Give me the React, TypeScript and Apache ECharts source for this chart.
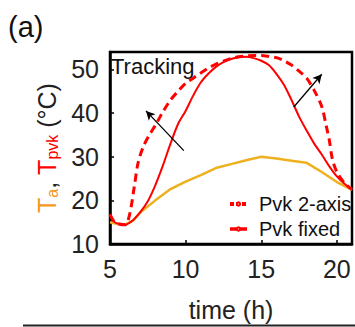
import React, { useEffect, useRef } from "react";
import * as echarts from "echarts";

const taData: [number, number][] = [
  [5, 15], [5.5, 14.6], [6, 14.5], [6.5, 15.3], [7, 17.2], [8, 20], [9, 22.6], [10, 24.3],
  [11, 25.8], [12, 27.4], [13, 28.3], [14, 29.2], [15, 30], [16, 29.6], [17, 29.1], [18, 28.6],
  [19, 26.5], [20, 24.2], [21, 22.4],
];

const fixedData: [number, number][] = [
  [5, 16.8], [5.3, 15], [5.6, 14.6], [6, 14.4], [6.5, 15.4], [7, 17.3], [7.5, 19.8], [8, 23.5],
  [8.5, 28], [9, 33], [9.5, 37.5], [10, 40.5], [10.5, 44], [11, 47], [11.5, 49], [12, 50.6],
  [12.5, 51.7], [13, 52.4], [13.5, 52.8], [14, 52.9], [14.5, 52.6], [15, 52], [15.5, 51],
  [16, 49], [16.5, 46.5], [17, 43], [17.5, 39.2], [18, 36], [18.5, 33], [19, 30.5],
  [19.5, 27.8], [20, 25.5], [20.5, 23.8], [21, 22.5],
];

const trackData: [number, number][] = [
  [5, 16.8], [5.3, 15], [5.6, 14.6], [6, 14.4], [6.3, 16.8], [6.6, 23], [6.85, 28.5], [7.2, 32.3],
  [7.6, 35], [8, 37.2], [8.5, 40.3], [9, 43], [9.5, 45], [10, 46.8], [10.5, 48], [11, 49.2],
  [11.5, 50.3], [12, 51.2], [12.5, 51.9], [13, 52.5], [13.5, 52.9], [14, 53.1], [14.5, 53.2],
  [15, 53.2], [15.5, 53], [16, 52.7], [16.5, 52], [17, 51], [17.5, 49.6], [18, 48], [18.5, 45.2],
  [19, 41.5], [19.3, 37], [19.5, 33.8], [19.7, 29.5], [20, 26.5], [20.5, 24], [21, 22.5],
];

const arrows: [[number, number], [number, number]][] = [
  [[9.88, 31.4], [7.38, 40.5]],
  [[17.15, 41.4], [19.0, 48.9]],
];

const xTicks = [5, 10, 15, 20];
const yTicks = [10, 20, 30, 40, 50];
const seriesNames = ["Pvk 2-axis", "Pvk fixed", "Ta"];

const FONT = "Liberation Sans, Arial, sans-serif";

export default function App() {
  const ref = useRef<HTMLDivElement>(null);
  useEffect(() => {
    document.body.style.margin = "0";
    const chart = echarts.init(ref.current!, undefined, { renderer: "svg" });
    chart.setOption({
      animation: false,
      textStyle: { fontFamily: FONT },
      grid: {
        left: 110, right: 2, top: 52, bottom: 82, show: true,
        borderColor: "#000", borderWidth: 2.5, backgroundColor: "transparent",
      },
      legend: {
        orient: "vertical", left: 223, top: 189, itemWidth: 17, itemHeight: 4, itemGap: 5,
        textStyle: { fontSize: 20, lineHeight: 20, color: "#111", padding: [0, 0, 0, 7], fontFamily: FONT },
        data: [
          { name: seriesNames[0], lineStyle: { type: [4, 2], width: 4 } },
          { name: seriesNames[1], lineStyle: { width: 3.5 } },
        ],
      },
      xAxis: {
        type: "value", min: 5, max: 21, interval: 5,
        name: "time (h)", nameLocation: "middle", nameGap: 53,
        nameTextStyle: { fontSize: 25, color: "#222", fontFamily: FONT },
        axisLine: { lineStyle: { color: "#000", width: 2.5 } },
        axisTick: { inside: true, length: 4, lineStyle: { color: "#000", width: 1.5 } },
        axisLabel: {
          fontSize: 25, color: "#222", margin: 12, fontFamily: FONT,
          formatter: (v: number) => (xTicks.includes(v) ? String(v) : ""),
        },
        splitLine: { show: false },
      },
      yAxis: {
        type: "value", min: 10, max: 54, interval: 10,
        name: "{ta|T}{tas|a}{k|, }{tp|T}{tps|pvk}{k| (°C)}",
        nameLocation: "middle", nameGap: 49,
        nameTextStyle: {
          fontFamily: FONT,
          rich: {
            ta: { fontSize: 25, color: "#F39A1E", lineHeight: 26, verticalAlign: "top", fontFamily: FONT },
            tas: { fontSize: 16, color: "#F39A1E", lineHeight: 12, verticalAlign: "bottom", fontFamily: FONT },
            tp: { fontSize: 25, color: "#FF0000", lineHeight: 26, verticalAlign: "top", fontFamily: FONT },
            tps: { fontSize: 16, color: "#FF0000", lineHeight: 12, verticalAlign: "bottom", fontFamily: FONT },
            k: { fontSize: 25, color: "#222", lineHeight: 26, verticalAlign: "top", fontFamily: FONT },
          },
        },
        axisLine: { lineStyle: { color: "#000", width: 2.5 } },
        axisTick: { inside: true, length: 4, lineStyle: { color: "#000", width: 1.5 } },
        axisLabel: {
          fontSize: 25, color: "#222", margin: 11, fontFamily: FONT,
          formatter: (v: number) => (yTicks.includes(v) ? String(v) : ""),
        },
        splitLine: { show: false },
      },
      graphic: [
        { type: "text", left: 8, top: 12, style: { text: "(a)", font: `29px ${FONT}`, fill: "#111" } },
        { type: "text", left: 111, top: 55, style: { text: "Tracking", font: `22px ${FONT}`, fill: "#111" } },
        { type: "line", shape: { x1: 23, y1: 325.5, x2: 355, y2: 325.5 }, style: { stroke: "#222", lineWidth: 2 } },
      ],
      series: [
        {
          name: seriesNames[0], type: "line", data: trackData, showSymbol: false, smooth: 0.3,
          lineStyle: { color: "#FF0000", width: 3, type: [8, 5] }, itemStyle: { color: "#FF0000" }, z: 3,
        },
        {
          name: seriesNames[1], type: "line", data: fixedData, showSymbol: false, smooth: 0.3,
          lineStyle: { color: "#FF0000", width: 2 }, itemStyle: { color: "#FF0000" }, z: 4,
          markLine: {
            silent: true, symbol: ["none", "arrow"], symbolSize: [7, 9], label: { show: false },
            lineStyle: { color: "#000", width: 1.3, type: "solid" },
            data: arrows.map(([a, b]) => [{ coord: a }, { coord: b }]),
          },
        },
        {
          name: seriesNames[2], type: "line", data: taData, showSymbol: false,
          lineStyle: { color: "#EDB120", width: 2.5 }, itemStyle: { color: "#EDB120" }, z: 2,
        },
      ],
    });
    return () => chart.dispose();
  }, []);
  return <div ref={ref} style={{ width: 355, height: 327 }} />;
}
